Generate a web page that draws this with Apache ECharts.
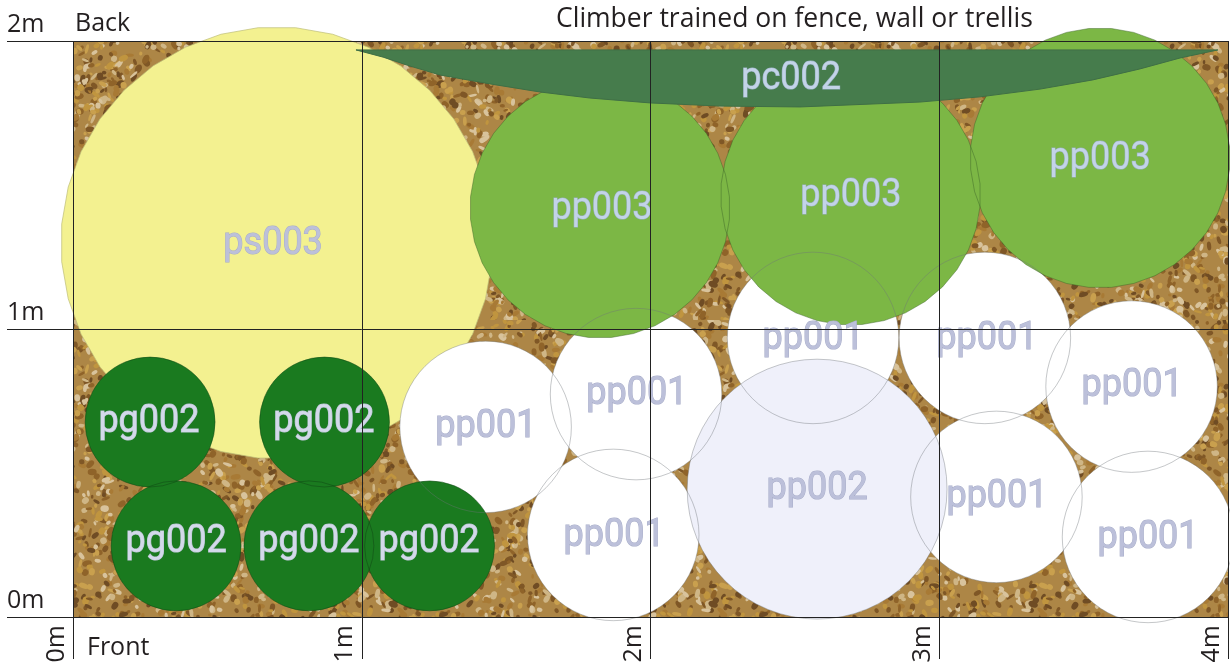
<!DOCTYPE html>
<html><head><meta charset="utf-8">
<style>html,body{margin:0;padding:0;background:#fff;overflow:hidden}#c{width:1230px;height:664px}</style>
<script src="https://cdn.jsdelivr.net/npm/echarts@6/dist/echarts.min.js"></script>
</head><body><div id="c"></div>
<script>
// plants: [x m, y m, spread radius m]
const shrubS = [[0.706,1.299,0.748]];
const perennialWhite = [[1.429,0.660,0.297],[1.950,0.774,0.297],[1.871,0.285,0.297],[2.563,0.969,0.297],[3.158,0.969,0.297],[3.666,0.800,0.297],[3.198,0.417,0.297],[3.723,0.278,0.297]];
const perennialBlue = [[2.577,0.444,0.45]];
const perennialGreen = [[1.825,1.420,0.45],[2.693,1.465,0.45],[3.557,1.594,0.45]];
const grasses = [[0.267,0.677,0.225],[0.871,0.677,0.225],[0.357,0.247,0.225],[0.817,0.247,0.225],[1.235,0.247,0.225]];
const climber = [[0.980,1.969],[3.965,1.969],[3.834,1.941],[3.695,1.903],[3.532,1.865],[3.349,1.833],[3.141,1.806],[2.933,1.788],[2.518,1.771],[2.241,1.774],[1.998,1.785],[1.790,1.802],[1.617,1.823],[1.444,1.851],[1.271,1.882],[1.167,1.913],[1.074,1.944]];
// labels: [x m, y m, text]
const labelsWhite = [[0.693,1.299,'ps003'],[1.430,0.663,'pp001'],[1.953,0.778,'pp001'],[1.874,0.285,'pp001'],[2.563,0.969,'pp001'],[3.165,0.969,'pp001'],[3.668,0.806,'pp001'],[3.200,0.420,'pp001'],[3.723,0.278,'pp001'],[2.577,0.448,'pp002']];
const labelsMid = [[1.832,1.420,'pp003'],[2.694,1.465,'pp003'],[3.557,1.594,'pp003'],[2.487,1.872,'pc002']];
const labelsDark = [[0.263,0.681,'pg002'],[0.869,0.681,'pg002'],[0.357,0.264,'pg002'],[0.817,0.264,'pg002'],[1.233,0.264,'pg002']];
const xTicks = ['0m','1m','2m','3m','4m'];
const yTicks = ['0m','1m','2m'];

// gravel ground texture (decorative, deterministic)
function gravel(){
  const size=320, c=document.createElement('canvas'); c.width=c.height=size;
  const g=c.getContext('2d'); g.fillStyle='#ad8646'; g.fillRect(0,0,size,size);
  const cols=['#7f5726','#c9a04e','#d8c39c','#a87a35','#6f4c24','#c0953f','#cfb686','#8f6329'];
  let s=987654; const r=()=>{s=(s*1664525+1013904223)%2147483648; return s/2147483648;};
  for(let i=0;i<2200;i++){
    const x=r()*size,y=r()*size,a=1.6+r()*3.4,b=1.2+r()*2.2,t=r()*3.14;
    g.fillStyle=cols[Math.floor(r()*cols.length)];
    g.beginPath(); g.ellipse(x,y,a,b,t,0,6.3); g.fill();
  }
  const o=document.createElement('canvas'); o.width=o.height=size;
  const h=o.getContext('2d'); h.drawImage(c,0,0); h.filter='blur(0.6px)'; h.drawImage(c,0,0);
  return o;
}
const gravelImg=gravel();

function outline(cx,cy,r,sides){
  if(!sides) return {type:'circle',shape:{cx:cx,cy:cy,r:r}};
  const pts=[];
  for(let i=0;i<sides;i++){const t=(i+.5)*2*Math.PI/sides; pts.push([cx+r*Math.cos(t),cy+r*Math.sin(t)]);}
  return {type:'polygon',shape:{points:pts}};
}
function circleSeries(data,fill,stroke,z,lw,sides){
  return {type:'custom',coordinateSystem:'cartesian2d',z:z,silent:true,clip:false,data:data,
    renderItem:(p,api)=>{
      const c=api.coord([api.value(0),api.value(1)]);
      const r=api.size([api.value(2),0])[0];
      return Object.assign(outline(c[0],c[1],r,sides),{style:{fill:fill,stroke:stroke,lineWidth:lw}});
    }};
}
function labelSeries(data,fill,stroke){
  return {type:'custom',coordinateSystem:'cartesian2d',z:6,silent:true,clip:false,
    encode:{x:0,y:1},data:data,
    renderItem:(p,api)=>{
      const c=api.coord([api.value(0),api.value(1)]);
      return {type:'text',x:c[0],y:c[1]+1,scaleY:1.1,style:{text:data[p.dataIndex][2],fill:fill,stroke:stroke,lineWidth:1,
        font:'36px Roboto',align:'center',verticalAlign:'middle'}};
    }};
}
const chart=echarts.init(document.getElementById('c'),null,{renderer:'canvas'});
const axisText={fontFamily:'"Open Sans"',fontSize:25,color:'#231f20'};
chart.setOption({
  animation:false,
  grid:{left:73,right:2,top:41,bottom:47,containLabel:false,outerBoundsMode:'none'},
  xAxis:{type:'value',min:0,max:4,interval:1,z:10,
    axisLine:{show:false},
    axisTick:{show:true,length:42,lineStyle:{color:'#222',width:1}},
    splitLine:{show:true,lineStyle:{color:'#222',width:1}},
    axisLabel:Object.assign({rotate:90,align:'right',verticalAlign:'bottom',margin:8,padding:[0,0,4,0],
      formatter:v=>xTicks[v]},axisText)},
  yAxis:{type:'value',min:0,max:2,interval:1,z:10,
    axisLine:{show:false},
    axisTick:{show:true,length:66,lineStyle:{color:'#222',width:1}},
    splitLine:{show:true,lineStyle:{color:'#222',width:1}},
    axisLabel:Object.assign({align:'left',verticalAlign:'bottom',margin:66,padding:[0,0,4,0],
      formatter:v=>yTicks[v]},axisText)},
  series:[
    {type:'custom',coordinateSystem:'cartesian2d',z:1,silent:true,data:[[0,0,4,2]],
     renderItem:(p,api)=>{
       const a=api.coord([api.value(0),api.value(3)]),b=api.coord([api.value(2),api.value(1)]);
       return {type:'rect',shape:{x:a[0],y:a[1],width:b[0]-a[0],height:b[1]-a[1]},
         style:{fill:{image:gravelImg,repeat:'repeat'}}};
     }},
    circleSeries(shrubS,'#f3f190','rgba(190,190,120,.7)',2,1,36),
    circleSeries(perennialWhite,'#ffffff','rgba(255,255,255,0)',3,0),
    circleSeries(perennialBlue,'#eff0fa','rgba(255,255,255,0)',3,0),
    circleSeries(perennialGreen,'#7cb745','rgba(0,0,0,0)',3,0,36),
    circleSeries(grasses,'#1a7a1f','rgba(0,0,0,0)',3,0),
    circleSeries(perennialWhite,'none','rgba(110,115,120,.4)',4,1),
    circleSeries(perennialBlue,'none','rgba(110,115,120,.4)',4,1),
    circleSeries(perennialGreen,'none','rgba(60,100,40,.45)',4,1,36),
    circleSeries(grasses,'none','rgba(15,70,20,.5)',4,1),
    {type:'custom',coordinateSystem:'cartesian2d',z:5,silent:true,clip:false,data:climber,
     renderItem:(p,api)=>{
       if(p.dataIndex!==0) return null;
       return {type:'polygon',shape:{points:climber.map(q=>api.coord(q))},style:{fill:'#467c4c',stroke:'#3f6f45',lineWidth:1}};
     }},
    labelSeries(labelsWhite,'#bcc0da','#a8adc9'),
    labelSeries(labelsMid,'#c3d3e8','#97b0c0'),
    labelSeries(labelsDark,'#d3d9ea','#b5c0d0')
  ],
  graphic:[
    {type:'text',left:75,top:11,z:20,style:{text:'Back',font:'25px "Open Sans"',fill:'#231f20'}},
    {type:'text',left:87,top:635,z:20,style:{text:'Front',font:'25px "Open Sans"',fill:'#231f20'}},
    {type:'text',left:556,top:6,z:20,style:{text:'Climber trained on fence, wall or trellis',font:'26.5px "Open Sans"',fill:'#231f20'}}
  ]
});
</script></body></html>
